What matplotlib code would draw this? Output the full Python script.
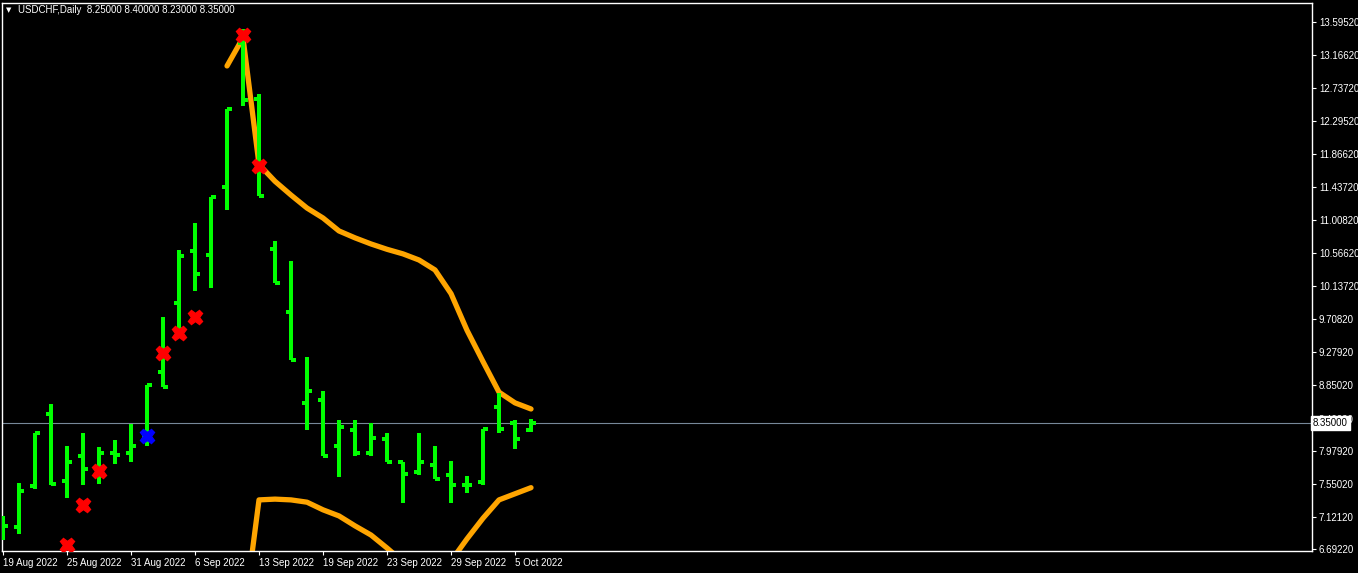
import numpy as np
import matplotlib
matplotlib.use('Agg')
import matplotlib.pyplot as plt

# USDCHF Daily の OHLC バーとエンベロープ風の線

plt.rcParams['font.family'] = 'Liberation Sans'
plt.rcParams['font.size'] = 7

symbol = 'USDCHF,Daily'
last_ohlc = [8.25, 8.40, 8.23, 8.35]

# 各バーの値
opens  = [6.95, 6.99, 7.52, 8.46, 7.59, 7.92, 7.77, 7.96, 7.95, 8.18,
          9.01, 9.92, 10.60, 10.55, 11.44, 13.32, 12.59, 10.62, 9.80, 8.61,
          8.65, 8.05, 8.25, 7.96, 8.14, 7.83, 7.71, 7.80, 7.67, 7.53,
          7.58, 8.55, 8.34, 8.25]
highs  = [7.13, 7.56, 8.21, 8.60, 8.05, 8.21, 8.03, 8.13, 8.33, 8.85,
          9.73, 10.61, 10.97, 11.31, 12.45, 13.50, 12.65, 10.73, 10.47, 9.21,
          8.77, 8.38, 8.38, 8.35, 8.22, 7.83, 8.22, 8.05, 7.85, 7.65,
          8.27, 8.74, 8.38, 8.40]
lows   = [6.82, 6.90, 7.48, 7.54, 7.36, 7.54, 7.55, 7.81, 7.83, 8.05,
          8.82, 9.47, 10.07, 10.12, 11.14, 12.49, 11.32, 10.18, 9.17, 8.26,
          7.91, 7.64, 7.91, 7.92, 7.84, 7.30, 7.66, 7.61, 7.30, 7.43,
          7.54, 8.21, 8.00, 8.23]
closes = [7.00, 7.46, 8.21, 7.55, 7.84, 7.75, 7.96, 7.93, 8.04, 8.85,
          8.82, 10.53, 10.30, 11.31, 12.45, 12.57, 11.32, 10.18, 9.17, 8.77,
          7.91, 8.30, 7.95, 8.15, 7.84, 7.68, 7.83, 7.61, 7.54, 7.53,
          8.27, 8.27, 8.14, 8.35]

# 上側・下側の線 (バー番号, 値)
upper_idx = list(range(14, 34))
upper_val = [13.02, 13.39, 11.73, 11.51, 11.33, 11.16, 11.03, 10.86, 10.77, 10.69,
             10.62, 10.56, 10.48, 10.35, 10.04, 9.56, 9.15, 8.75, 8.61, 8.53]
lower_idx = list(range(15, 34))
lower_val = [5.73, 7.34, 7.35, 7.34, 7.31, 7.21, 7.13, 7.00, 6.88, 6.71,
             6.53, 6.37, 6.32, 6.54, 6.83, 7.10, 7.34, 7.42, 7.50]

# シグナル (赤と青のバツ印)
red_idx = [4, 5, 6, 10, 11, 12, 15, 16]
red_val = [6.75, 7.27, 7.72, 9.26, 9.53, 9.74, 13.43, 11.71]
blue_idx = [9]
blue_val = [8.18]

date_idx = [0, 4, 8, 12, 16, 20, 24, 28, 32]
date_labels = ['19 Aug 2022', '25 Aug 2022', '31 Aug 2022', '6 Sep 2022', '13 Sep 2022',
               '19 Sep 2022', '23 Sep 2022', '29 Sep 2022', '5 Oct 2022']

price_ticks = [13.5952, 13.1662, 12.7372, 12.2952, 11.8662, 11.4372, 11.0082, 10.5662,
               10.1372, 9.7082, 9.2792, 8.8502, 8.4002, 7.9792, 7.5502, 7.1212, 6.6922]
price_labels = ['%.5f' % v for v in price_ticks]

W, H = 1358, 573
fig = plt.figure(figsize=(W / 100, H / 100), dpi=100, facecolor='black')
ax = fig.add_axes([2 / W, (H - 551) / H, 1310 / W, 548 / H], facecolor='black')

x = np.arange(len(opens))
green = '#00ff00'
orange = '#ffa500'

ax.plot(upper_idx, upper_val, color=orange, lw=3.8, solid_capstyle='round', zorder=2)
ax.plot(lower_idx, lower_val, color=orange, lw=3.8, solid_capstyle='round', zorder=2)

ax.vlines(x, lows, highs, color=green, lw=1.5, antialiased=False, zorder=3)
ax.hlines(opens, x - 0.32, x, color=green, lw=1.5, antialiased=False, zorder=3)
ax.hlines(closes, x, x + 0.32, color=green, lw=1.5, antialiased=False, zorder=3)

ax.plot(red_idx, red_val, 'X', color='#ff0000', ms=10.5, mec='#ff0000', zorder=4)
ax.plot(blue_idx, blue_val, 'X', color='#0000ff', ms=10.5, mec='#0000ff', zorder=4)

# 現在値のライン
ax.axhline(last_ohlc[3], color='#778899', lw=0.8, zorder=1)

ax.set_xlim(-0.0625, 81.81)
ax.set_ylim(6.671, 13.844)

for s in ax.spines.values():
    s.set_color('white')
    s.set_linewidth(1.0)

ax.yaxis.tick_right()
ax.set_yticks(price_ticks)
ax.set_yticklabels(price_labels)
ax.set_xticks(date_idx)
ax.set_xticklabels(date_labels, ha='left')
ax.tick_params(axis='y', colors='white', length=3, width=0.8, pad=2, labelsize=7)
ax.tick_params(axis='x', colors='white', length=3, width=0.8, pad=2, labelsize=7)

ax.text(1.0008, last_ohlc[3], '%.5f' % last_ohlc[3], transform=ax.get_yaxis_transform(),
        ha='left', va='center', color='black', fontsize=7, clip_on=False, zorder=10,
        bbox=dict(boxstyle='square,pad=0.2', fc='white', ec='white'))

fig.text(6 / W, 1 - 10 / H, '\u25bc', color='white', fontsize=5, va='center', ha='left',
         family='DejaVu Sans')
fig.text(18 / W, 1 - 10 / H, '%s  %s' % (symbol, ' '.join('%.5f' % v for v in last_ohlc)),
         color='white', fontsize=7, va='center', ha='left')

fig.savefig('out.png', dpi=100, facecolor='black')
